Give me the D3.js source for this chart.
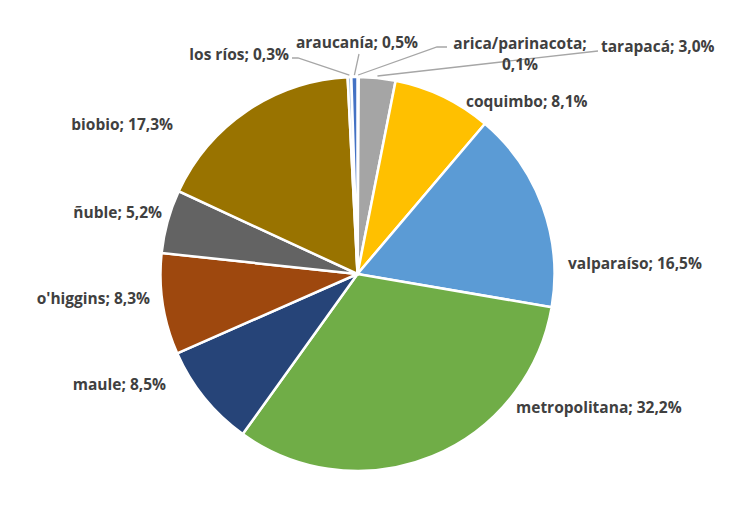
<!DOCTYPE html>
<html>
<head>
<meta charset="utf-8">
<script src="https://cdn.jsdelivr.net/npm/d3@7"></script>
<style>
  body { margin: 0; background: #fff; }
  svg { display: block; }
</style>
</head>
<body>
<svg width="752" height="509"></svg>
<script>
// Regions, clockwise from 12 o'clock
const regions = [
  'arica/parinacota',
  'tarapacá',
  'coquimbo',
  'valparaíso',
  'metropolitana',
  'maule',
  "o'higgins",
  'ñuble',
  'biobio',
  'los ríos',
  'araucanía'
];
const shares = [0.1, 3.0, 8.1, 16.5, 32.2, 8.5, 8.3, 5.2, 17.3, 0.3, 0.5];
const colors = [
  '#4472C4',
  '#A5A5A5',
  '#FFC000',
  '#5B9BD5',
  '#70AD47',
  '#264478',
  '#9E480E',
  '#636363',
  '#997300',
  '#A9C4E6',
  '#4472C4'
];

// Label placement (Excel "best fit" positions), keyed by region
const labelLayout = {
  'arica/parinacota': { x: 520, y: 49, anchor: 'middle', lines: 2, line: [[447, 47], [437, 47]] },
  'tarapacá': { x: 601, y: 52, anchor: 'start', line: [[598, 51]] },
  'coquimbo': { x: 466, y: 107, anchor: 'start' },
  'valparaíso': { x: 568, y: 269, anchor: 'start' },
  'metropolitana': { x: 516, y: 413, anchor: 'start' },
  'maule': { x: 166, y: 390, anchor: 'end' },
  "o'higgins": { x: 150, y: 304, anchor: 'end' },
  'ñuble': { x: 162, y: 218, anchor: 'end' },
  'biobio': { x: 173, y: 130, anchor: 'end' },
  'los ríos': { x: 289, y: 60, anchor: 'end', line: [[292, 58], [298, 58]] },
  'araucanía': { x: 357, y: 48, anchor: 'middle', line: [[359, 54]] }
};

const fmt = v => d3.format('.1f')(v).replace('.', ',') + '%';

const svg = d3.select('svg');
const cx = 357.5;
const cy = 274;
const radius = 197;

const g = svg.append('g').attr('transform', `translate(${cx},${cy})`);

const data = regions.map((name, i) => ({ name, value: shares[i], color: colors[i] }));

const pie = d3
  .pie()
  .sort(null)
  .value(d => d.value);

const arc = d3
  .arc()
  .innerRadius(0)
  .outerRadius(radius);

const arcs = pie(data);

// Slices
g
  .selectAll('path.slice')
  .data(arcs)
  .enter()
  .append('path')
  .attr('class', 'slice')
  .attr('d', arc)
  .attr('fill', d => d.data.color)
  .attr('stroke', '#fff')
  .attr('stroke-width', 2.5);

// Leader lines for the small slices
const edgeArc = d3.arc().innerRadius(radius + 2).outerRadius(radius + 2);
arcs.forEach(d => {
  const lay = labelLayout[d.data.name];
  if (!lay.line) return;
  const [ex, ey] = edgeArc.centroid(d);
  const pts = lay.line.map(([x, y]) => [x - cx, y - cy]).concat([[ex, ey]]);
  g
    .append('path')
    .attr('d', d3.line()(pts))
    .attr('fill', 'none')
    .attr('stroke', '#A6A6A6')
    .attr('stroke-width', 1.3);
});

// Labels
const addText = (x, y, anchor, str) =>
  svg
    .append('text')
    .attr('x', x)
    .attr('y', y)
    .attr('text-anchor', anchor)
    .attr('font-family', '"Open Sans", Lato, sans-serif')
    .attr('font-weight', 'bold')
    .attr('font-size', 15.5)
    .attr('fill', '#404040')
    .text(str);

arcs.forEach(d => {
  const lay = labelLayout[d.data.name];
  if (lay.lines === 2) {
    // wrapped label: name on one line, value below
    addText(lay.x, lay.y, lay.anchor, d.data.name + ';');
    addText(lay.x, lay.y + 21, lay.anchor, fmt(d.data.value));
  } else {
    addText(lay.x, lay.y, lay.anchor, `${d.data.name}; ${fmt(d.data.value)}`);
  }
});
</script>
</body>
</html>
